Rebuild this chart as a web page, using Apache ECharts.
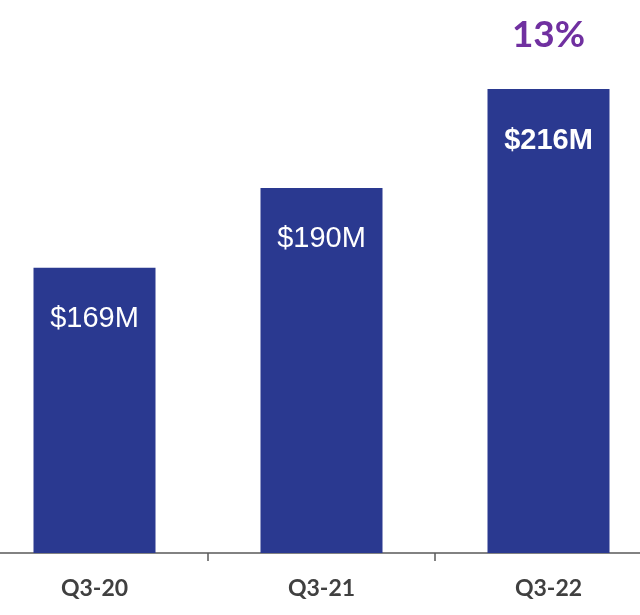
<!DOCTYPE html>
<html><head><meta charset="utf-8">
<script src="https://cdn.jsdelivr.net/npm/echarts@6/dist/echarts.min.js"></script>
<style>html,body{margin:0;padding:0;background:#fff}#c{width:640px;height:615px}</style>
</head><body><div id="c"></div>
<script>
const categories = ['Q3-20', 'Q3-21', 'Q3-22'];
const revenue = [169, 190, 216];
const valueLabels = ['$169M', '$190M', '$216M'];
const growthLabel = '13%';

const chart = echarts.init(document.getElementById('c'), null, {renderer: 'canvas'});
chart.setOption({
  animation: false,
  grid: {left: -19, right: -22, top: 89, bottom: 62, outerBoundsMode: 'none', containLabel: false},
  xAxis: {
    type: 'category', data: categories,
    axisLine: {lineStyle: {color: '#595959', width: 1.5}},
    axisTick: {show: true, length: 8, lineStyle: {color: '#595959', width: 1.5}},
    axisLabel: {color: '#404040', fontFamily: 'Lato', fontWeight: 'bold', fontSize: 23, margin: 24}
  },
  yAxis: {type: 'value', min: 94, max: 216, show: false, splitLine: {show: false}},
  series: [{
    type: 'bar', data: revenue, barWidth: 122,
    itemStyle: {color: '#2a3990'},
    label: {
      show: true, position: 'insideTop', distance: 37,
      color: '#ffffff', fontFamily: 'Liberation Sans', fontSize: 29,
      formatter: p => (p.dataIndex === revenue.length - 1 ? '{b|' : '{n|') + valueLabels[p.dataIndex] + '}',
      rich: {
        n: {color: '#ffffff', fontFamily: 'Liberation Sans', fontSize: 29},
        b: {color: '#ffffff', fontFamily: 'Liberation Sans', fontSize: 29, fontWeight: 'bold'}
      }
    }
  }]
});
const px = chart.convertToPixel({xAxisIndex: 0}, categories[2]);
chart.setOption({
  graphic: [{
    type: 'text', x: px, y: 35,
    style: {text: growthLabel, fill: '#7030a0', font: 'bold 37px Lato', textAlign: 'center', textVerticalAlign: 'middle'}
  }]
});
</script></body></html>
